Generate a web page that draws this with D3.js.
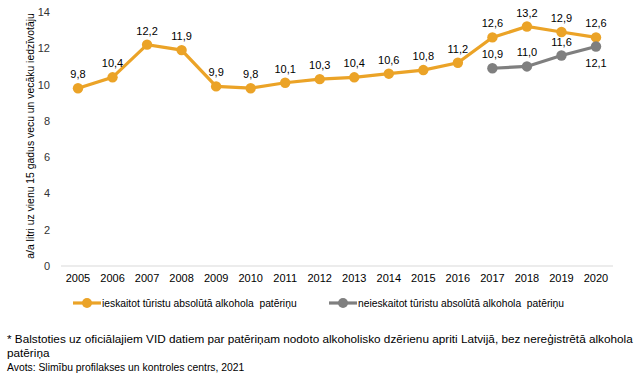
<!DOCTYPE html>
<html>
<head>
<meta charset="utf-8">
<script src="https://cdn.jsdelivr.net/npm/d3@7"></script>
<style>
  body { margin: 0; background: #fff; }
  svg { font-family: "Liberation Sans", Arial, sans-serif; }
  .note { font-family: "Liberation Sans", Arial, sans-serif; fill: #000; }
</style>
</head>
<body>
<svg width="643" height="382"></svg>
<script>
var years = ["2005","2006","2007","2008","2009","2010","2011","2012","2013","2014","2015","2016","2017","2018","2019","2020"];
var withTourists = [9.8, 10.4, 12.2, 11.9, 9.9, 9.8, 10.1, 10.3, 10.4, 10.6, 10.8, 11.2, 12.6, 13.2, 12.9, 12.6];
var withoutYears = ["2017","2018","2019","2020"];
var withoutTourists = [10.9, 11.0, 11.6, 12.1];
var yTicks = [0, 2, 4, 6, 8, 10, 12, 14];

var svg = d3.select("svg");

var x = d3.scalePoint().domain(years).range([78, 596]);
var y = d3.scaleLinear().domain([0, 14]).range([266, 12]);

var fmt = function(v) { return d3.format(".1f")(v).replace(".", ","); };

// baseline
svg.append("line")
    .attr("x1", 61).attr("x2", 613)
    .attr("y1", y(0)).attr("y2", y(0))
    .attr("stroke", "#d9d9d9").attr("stroke-width", 1);

// y axis labels
svg.append("g").selectAll("text")
    .data(yTicks)
  .enter().append("text")
    .attr("x", 50)
    .attr("y", function(d) { return y(d) + 4; })
    .attr("text-anchor", "end")
    .attr("font-size", 11)
    .attr("fill", "#333")
    .text(function(d) { return d; });

// x axis labels
svg.append("g").selectAll("text")
    .data(years)
  .enter().append("text")
    .attr("x", function(d) { return x(d); })
    .attr("y", 282)
    .attr("text-anchor", "middle")
    .attr("font-size", 11)
    .attr("fill", "#000")
    .text(function(d) { return d; });

// y title
svg.append("text")
    .attr("transform", "translate(34,136) rotate(-90)")
    .attr("text-anchor", "middle")
    .attr("font-size", 10.4)
    .attr("fill", "#000")
    .text("a/a litri uz vienu 15 gadus vecu un vecāku iedzīvotāju");

var line = d3.line()
    .x(function(d) { return x(d.year); })
    .y(function(d) { return y(d.v); });

function drawSeries(yrs, vals, color, below) {
  var data = yrs.map(function(yr, i) { return {year: yr, v: vals[i], i: i}; });
  svg.append("path")
      .datum(data)
      .attr("d", line)
      .attr("fill", "none")
      .attr("stroke", color)
      .attr("stroke-width", 3.2);
  svg.append("g").selectAll("circle")
      .data(data)
    .enter().append("circle")
      .attr("cx", function(d) { return x(d.year); })
      .attr("cy", function(d) { return y(d.v); })
      .attr("r", 5.2)
      .attr("fill", color);
  svg.append("g").selectAll("text")
      .data(data)
    .enter().append("text")
      .attr("x", function(d) { return x(d.year); })
      .attr("y", function(d) { return below(d) ? y(d.v) + 21 : y(d.v) - 10; })
      .attr("text-anchor", "middle")
      .attr("font-size", 11)
      .attr("fill", "#000")
      .text(function(d) { return fmt(d.v); });
}

drawSeries(years, withTourists, "#EBA327", function() { return false; });
drawSeries(withoutYears, withoutTourists, "#7F7F7F", function(d) { return d.year === "2020"; });

// legend
var legend = [
  {label: "ieskaitot tūristu absolūtā alkohola  patēriņu", color: "#EBA327", x: 73},
  {label: "neieskaitot tūristu absolūtā alkohola  patēriņu", color: "#7F7F7F", x: 329}
];
var lg = svg.append("g").selectAll("g")
    .data(legend)
  .enter().append("g")
    .attr("transform", function(d) { return "translate(" + d.x + ",303)"; });
lg.append("line")
    .attr("x1", 0).attr("x2", 28)
    .attr("stroke", function(d) { return d.color; })
    .attr("stroke-width", 3.2);
lg.append("circle")
    .attr("cx", 14).attr("r", 5)
    .attr("fill", function(d) { return d.color; });
lg.append("text")
    .attr("x", 29).attr("y", 4)
    .attr("font-size", 10.3)
    .attr("fill", "#000")
    .style("white-space", "pre")
    .text(function(d) { return d.label; });

// footnote
var notes = [
  {t: "* Balstoties uz oficiālajiem VID datiem par patēriņam nodoto alkoholisko dzērienu apriti Latvijā, bez nereģistrētā alkohola", y: 343, s: 11.75},
  {t: "patēriņa", y: 357, s: 11.75},
  {t: "Avots: Slimību profilakses un kontroles centrs, 2021", y: 371, s: 10.35}
];
svg.append("g").selectAll("text")
    .data(notes)
  .enter().append("text")
    .attr("class", "note")
    .attr("x", 7)
    .attr("y", function(d) { return d.y; })
    .style("font-size", function(d) { return d.s + "px"; })
    .text(function(d) { return d.t; });
</script>
</body>
</html>
